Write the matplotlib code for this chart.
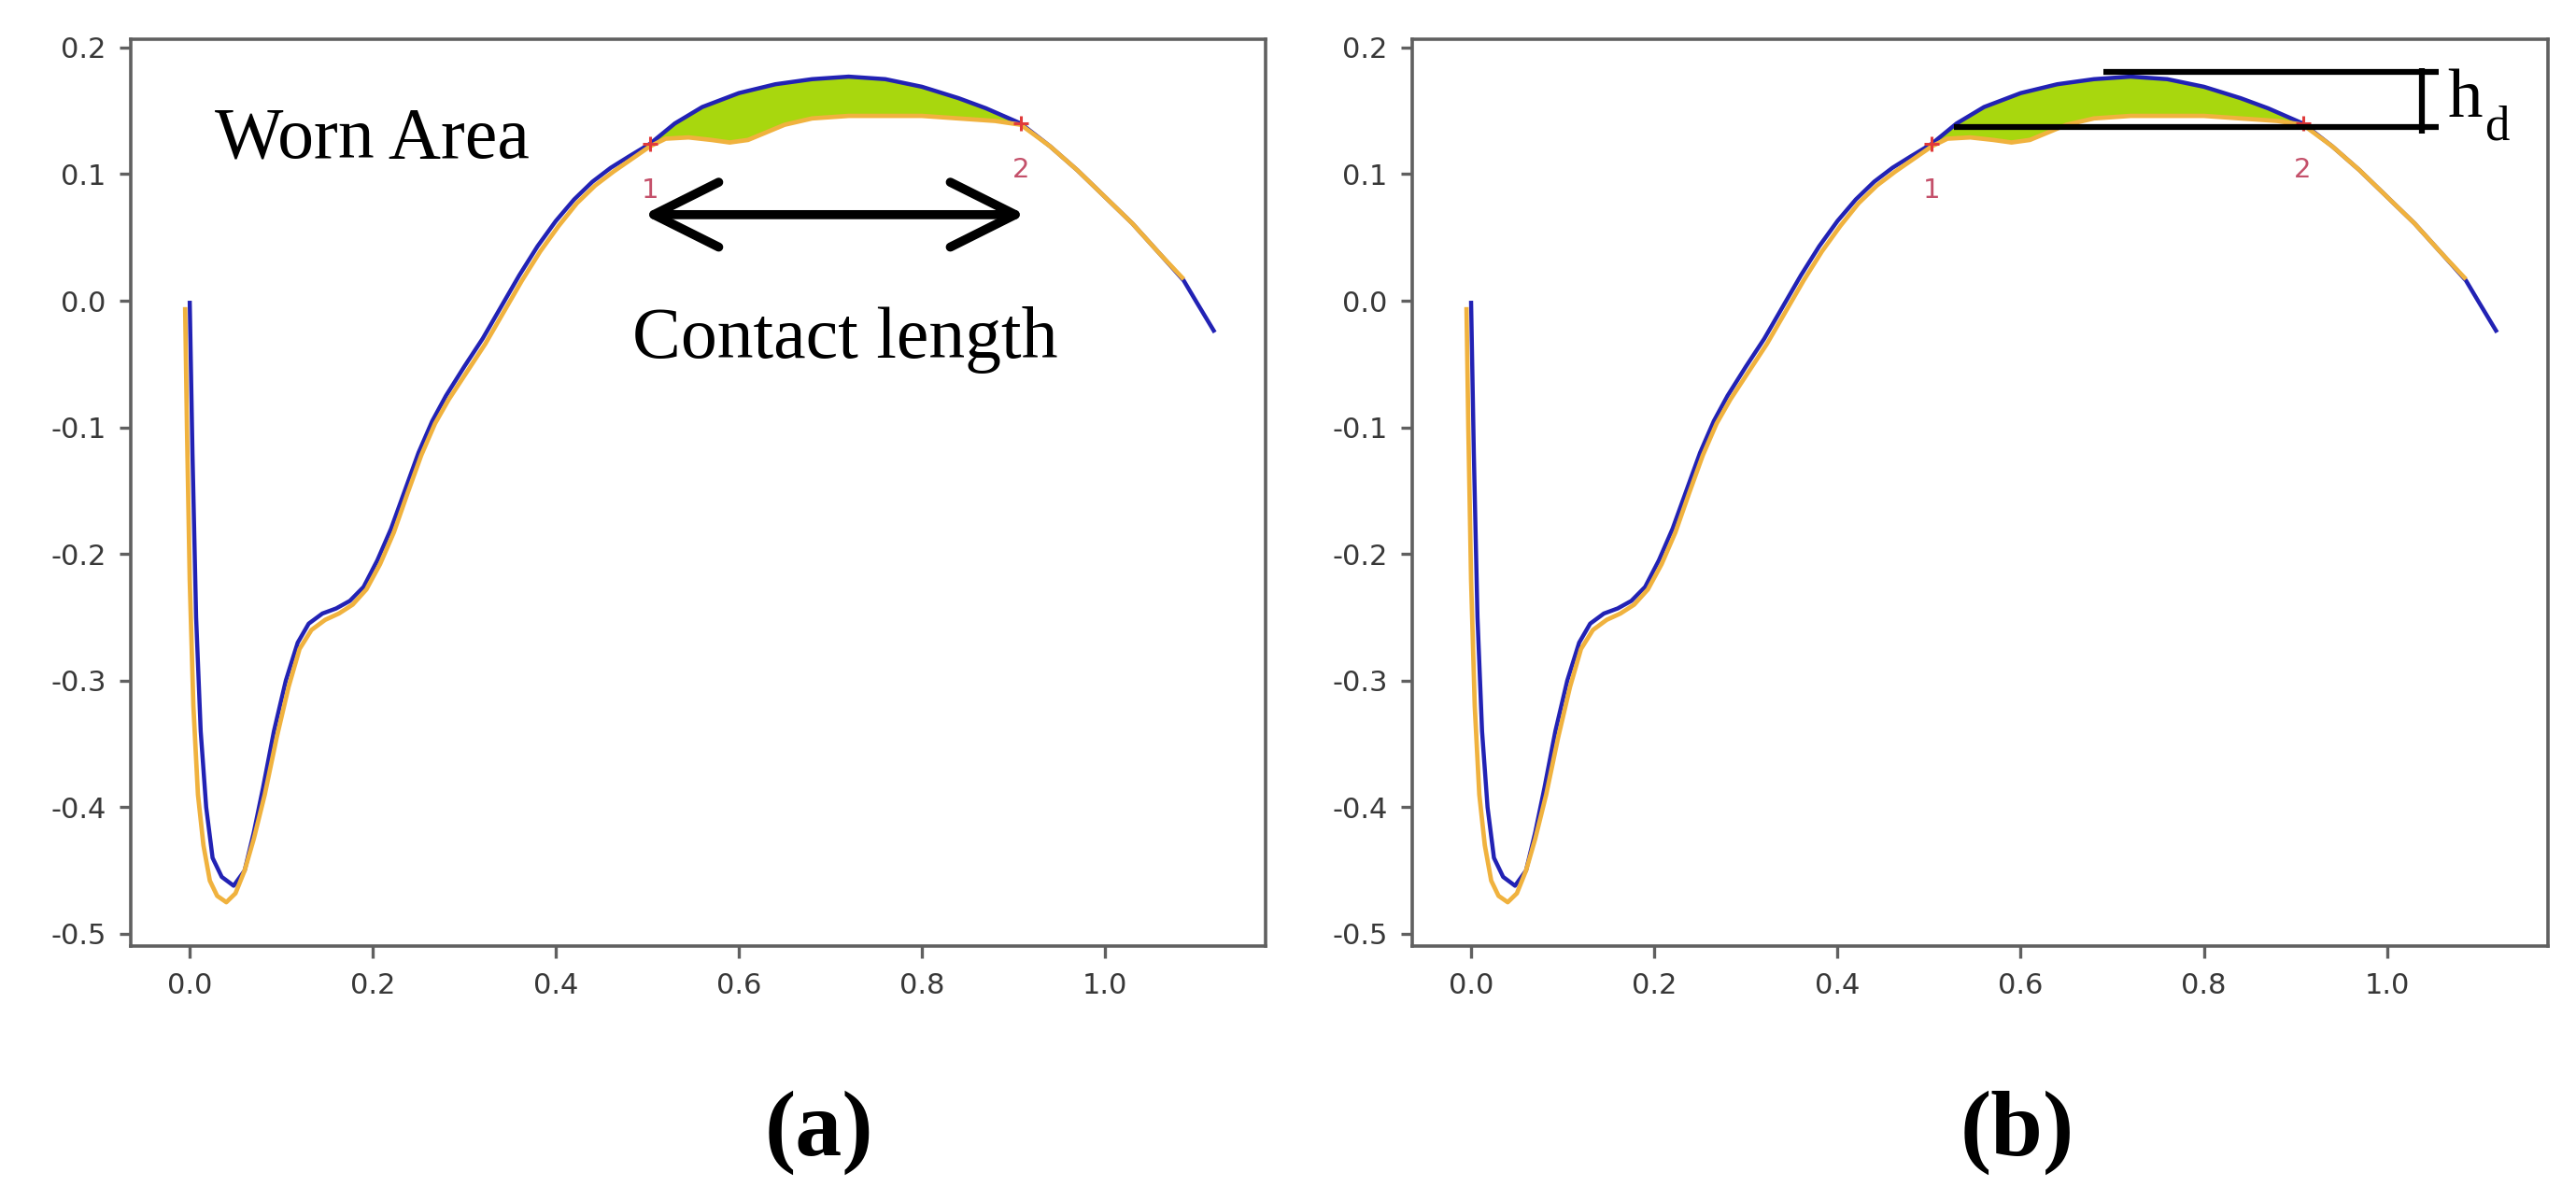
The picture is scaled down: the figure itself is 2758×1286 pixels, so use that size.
import numpy as np
import matplotlib
matplotlib.use("Agg")
import matplotlib.pyplot as plt

# ---------------- data ----------------
blue_x = [0.000, 0.003, 0.007, 0.012, 0.018, 0.025, 0.035, 0.048, 0.060, 0.070, 0.080,
          0.092, 0.105, 0.118, 0.130, 0.145, 0.160, 0.175, 0.190, 0.205, 0.220, 0.235,
          0.250, 0.265, 0.280, 0.300, 0.320, 0.340, 0.360, 0.380, 0.400, 0.420, 0.440,
          0.460, 0.480, 0.503, 0.530, 0.560, 0.600, 0.640, 0.680, 0.720, 0.760, 0.800,
          0.840, 0.870, 0.908, 0.940, 0.970, 1.000, 1.030, 1.060, 1.086, 1.100, 1.120]
blue_y = [0.000, -0.120, -0.250, -0.340, -0.400, -0.440, -0.455, -0.462, -0.450, -0.420, -0.385,
          -0.340, -0.300, -0.270, -0.255, -0.247, -0.243, -0.237, -0.226, -0.205, -0.180, -0.150,
          -0.120, -0.095, -0.075, -0.052, -0.030, -0.005, 0.020, 0.043, 0.063, 0.080, 0.094,
          0.105, 0.114, 0.124, 0.140, 0.153, 0.164, 0.171, 0.175, 0.177, 0.175, 0.169,
          0.160, 0.152, 0.140, 0.122, 0.103, 0.082, 0.061, 0.037, 0.016, -0.001, -0.025]

orange_x = [-0.005, -0.003, 0.000, 0.004, 0.009, 0.015, 0.022, 0.030, 0.040, 0.050, 0.060,
            0.070, 0.082, 0.095, 0.108, 0.120, 0.133, 0.148, 0.163, 0.178, 0.193, 0.208,
            0.223, 0.238, 0.253, 0.268, 0.283, 0.303, 0.323, 0.343, 0.363, 0.383, 0.403,
            0.423, 0.443, 0.463, 0.483, 0.503, 0.520, 0.545, 0.570, 0.590, 0.610, 0.630,
            0.650, 0.680, 0.720, 0.760, 0.800, 0.840, 0.880, 0.908, 0.940, 0.970, 1.000,
            1.030, 1.060, 1.086]
orange_y = [-0.005, -0.100, -0.220, -0.320, -0.390, -0.430, -0.458, -0.470, -0.475, -0.468, -0.450,
            -0.425, -0.390, -0.345, -0.305, -0.275, -0.260, -0.252, -0.247, -0.240, -0.228, -0.208,
            -0.183, -0.152, -0.122, -0.097, -0.078, -0.056, -0.034, -0.009, 0.016, 0.039, 0.059,
            0.077, 0.091, 0.102, 0.112, 0.122, 0.128, 0.129, 0.127, 0.125, 0.127, 0.133,
            0.139, 0.144, 0.146, 0.146, 0.146, 0.144, 0.142, 0.139, 0.122, 0.103, 0.082,
            0.061, 0.037, 0.017]

contact_pts_x = [0.503, 0.908]
contact_pts_y = [0.124, 0.140]
contact_labels = ["1", "2"]

x_ticks = [0.0, 0.2, 0.4, 0.6, 0.8, 1.0]
y_ticks = [-0.5, -0.4, -0.3, -0.2, -0.1, 0.0, 0.1, 0.2]

hd_low_y = 0.137
hd_high_y = 0.181
panel_labels = ["(a)", "(b)"]

# ---------------- style ----------------
BLUE = "#2222b4"
ORANGE = "#f0b23e"
GREEN = "#a8d70e"
SPINE = "#606060"
SERIF = ["Liberation Serif", "DejaVu Serif"]

fig = plt.figure(figsize=(27.58, 12.86), dpi=100)
ax_a = fig.add_axes([0.0508, 0.2123, 0.4405, 0.7551])
ax_b = fig.add_axes([0.5482, 0.2123, 0.4409, 0.7551])


def draw_profile(ax):
    fx = np.linspace(contact_pts_x[0], contact_pts_x[1], 200)
    ax.fill_between(fx, np.interp(fx, orange_x, orange_y), np.interp(fx, blue_x, blue_y),
                    color=GREEN, lw=0, zorder=1)
    ax.plot(blue_x, blue_y, color=BLUE, lw=3.2, zorder=2, solid_capstyle="butt",
            solid_joinstyle="round")
    ax.plot(orange_x, orange_y, color=ORANGE, lw=3.4, zorder=3, solid_capstyle="butt",
            solid_joinstyle="round")
    ax.plot(contact_pts_x, contact_pts_y, ls="none", marker="+", ms=12, mew=2.2,
            color="#e03a3a", zorder=4)
    for px, py, lab in zip(contact_pts_x, contact_pts_y, contact_labels):
        ax.text(px, py - 0.037, lab, ha="center", va="center", fontsize=21,
                color="#c4506a", zorder=5)
    ax.set_xlim(-0.0643, 1.1755)
    ax.set_ylim(-0.5096, 0.2066)
    ax.set_xticks(x_ticks)
    ax.set_yticks(y_ticks)
    ax.set_xticklabels([f"{v:.1f}" for v in x_ticks])
    ax.set_yticklabels([f"{v:.1f}" for v in y_ticks])
    ax.tick_params(labelsize=22, labelcolor="#383838", color=SPINE, length=9, width=2.4)
    ax.tick_params(axis="x", pad=11)
    ax.tick_params(axis="y", pad=10)
    for s in ax.spines.values():
        s.set_color(SPINE)
        s.set_linewidth(2.6)


draw_profile(ax_a)
draw_profile(ax_b)

# ---- panel (a) annotations ----
ax_a.text(0.0276, 0.113, "Worn Area", family=SERIF, fontsize=56, ha="left", va="baseline")
ax_a.annotate("", xy=(0.496, 0.068), xytext=(0.913, 0.068),
              arrowprops=dict(arrowstyle="<->,head_length=2.5,head_width=1.25",
                              lw=7, color="black", shrinkA=0, shrinkB=0,
                              mutation_scale=20))
ax_a.text(0.716, -0.045, "Contact length", family=SERIF, fontsize=56,
          ha="center", va="baseline")

# ---- panel (b) annotations ----
ax_b.plot([0.527, 1.056], [hd_low_y, hd_low_y], color="black", lw=4.5, zorder=6,
          solid_capstyle="butt")
ax_b.plot([0.690, 1.056], [hd_high_y, hd_high_y], color="black", lw=4.5, zorder=6,
          solid_capstyle="butt")
ax_b.plot([1.038, 1.038], [hd_low_y - 0.005, hd_high_y + 0.003], color="black", lw=4.5,
          zorder=6, solid_capstyle="butt")
ax_b.text(1.066, 0.145, "h", family=SERIF, fontsize=54, ha="left", va="baseline")
ax_b.text(1.106, 0.127, "d", family=SERIF, fontsize=38, ha="left", va="baseline")

# ---- panel labels ----
for xpos, lab in zip([0.318, 0.783], panel_labels):
    fig.text(xpos, 0.057, lab, family=SERIF, fontsize=72, fontweight="bold",
             ha="center", va="center")

fig.savefig("out.png", dpi=100)
